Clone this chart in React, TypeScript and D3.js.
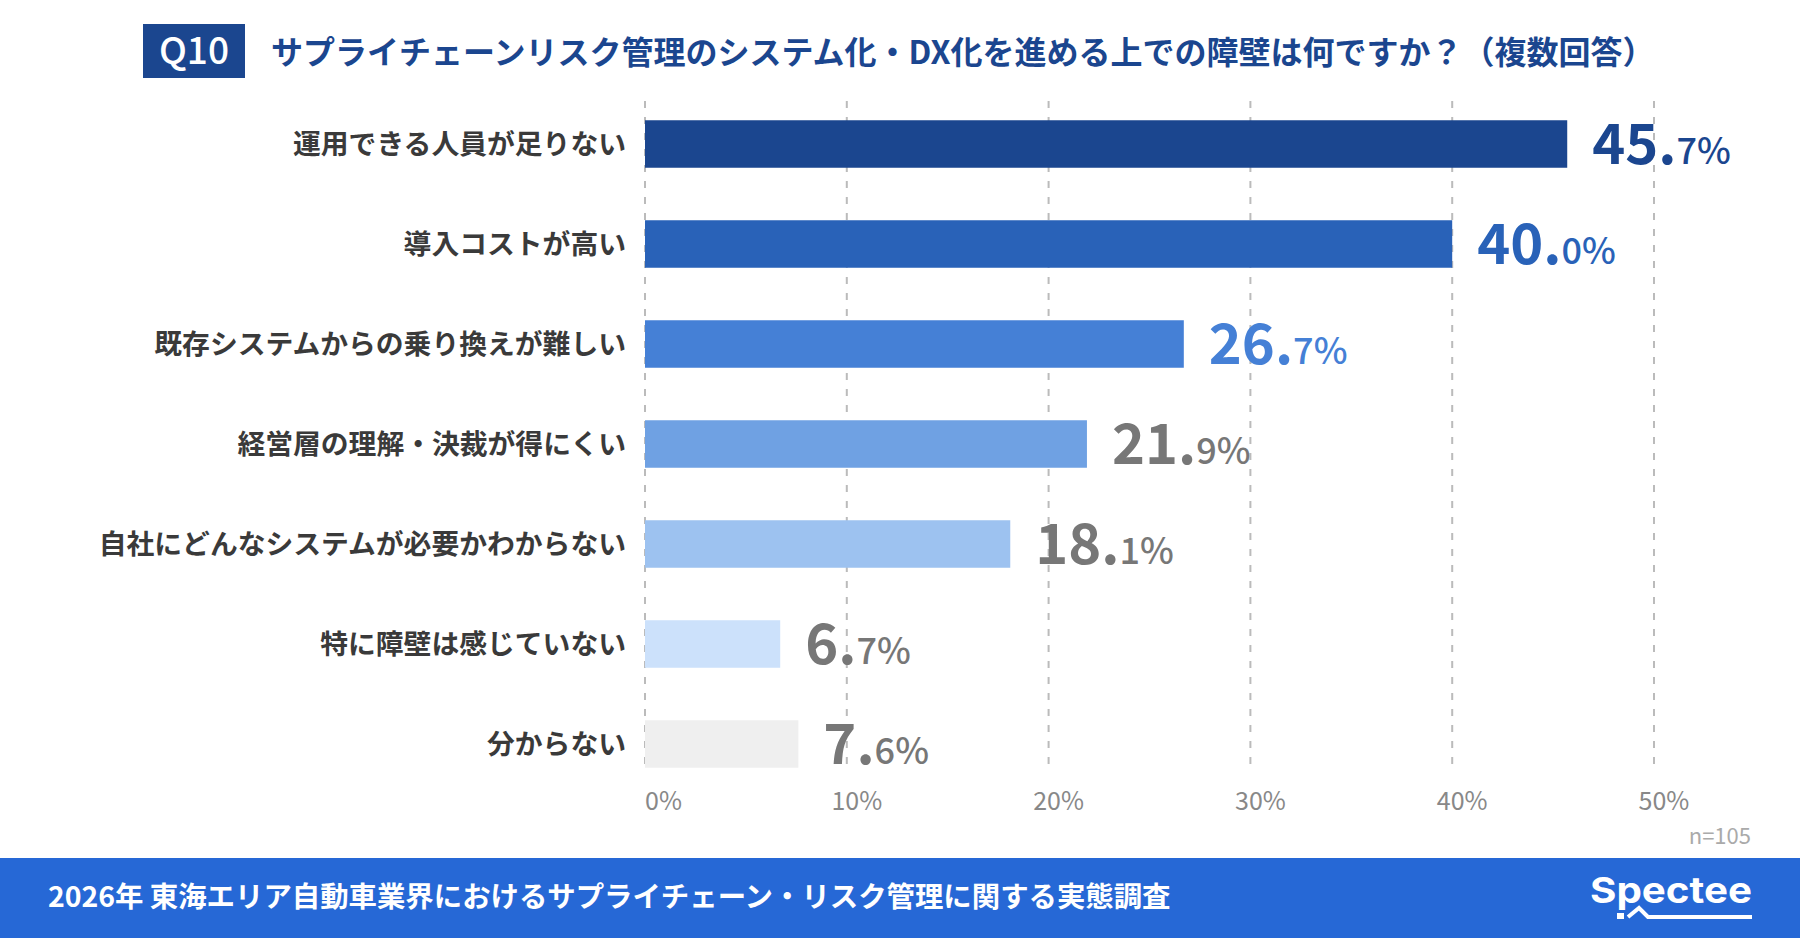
import React, { useEffect } from 'react';
import * as d3 from 'd3';

// canvas size of the reference image
const WIDTH = 1800;
const HEIGHT = 938;

const TITLE = 'サプライチェーンリスク管理のシステム化・DX化を進める上での障壁は何ですか？（複数回答）';
const FOOTER = '2026年 東海エリア自動車業界におけるサプライチェーン・リスク管理に関する実態調査';
const SAMPLE = 'n=105';

const categories = [
  '運用できる人員が足りない',
  '導入コストが高い',
  '既存システムからの乗り換えが難しい',
  '経営層の理解・決裁が得にくい',
  '自社にどんなシステムが必要かわからない',
  '特に障壁は感じていない',
  '分からない',
];
const values = [45.7, 40.0, 26.7, 21.9, 18.1, 6.7, 7.6];
const barColors = ['#1b468f', '#2962b8', '#4580d6', '#6fa1e3', '#9dc2f0', '#cce1fb', '#efefef'];
const labelColors = ['#1b468f', '#2962b8', '#4580d6', '#777777', '#777777', '#777777', '#777777'];
const ticks = [0, 10, 20, 30, 40, 50];

const JP = '"Noto Sans CJK JP", "Noto Sans", sans-serif';

export default function App() {
  useEffect(() => {
    document.body.style.margin = '0';
    document.body.style.overflow = 'hidden';
  }, []);

  const x = d3.scaleLinear().domain([0, 50]).range([645, 1654]);
  const y = d3
    .scaleBand<string>()
    .domain(categories)
    .range([94, 794])
    .paddingInner(0.525)
    .paddingOuter(0.2625);
  const bh = y.bandwidth();

  return (
    <svg width={WIDTH} height={HEIGHT} style={{ display: 'block', background: '#fff' }}>
      {/* header */}
      <rect x={143} y={24} width={102} height={54} fill="#1b468f" />
      <text x={194} y={64} textAnchor="middle" fill="#fff" fontFamily={JP} fontWeight={500} fontSize={37}>
        Q10
      </text>
      <text x={271} y={64} fill="#1b468f" fontFamily={JP} fontWeight={700} fontSize={32}>
        {TITLE}
      </text>

      {/* grid */}
      <g>
        {ticks.map((t) => (
          <line
            key={t}
            x1={x(t)}
            x2={x(t)}
            y1={101}
            y2={768}
            stroke="#bbbbbb"
            strokeWidth={2}
            strokeDasharray="7,9"
          />
        ))}
      </g>

      {/* bars */}
      <g>
        {categories.map((c, i) => (
          <rect key={c} x={x(0)} y={y(c)} width={x(values[i]) - x(0)} height={bh} fill={barColors[i]} />
        ))}
      </g>

      {/* category labels */}
      <g fontFamily={JP} fontWeight={700} fontSize={27.8} fill="#3a3a3a" textAnchor="end">
        {categories.map((c) => (
          <text key={c} x={626} y={(y(c) as number) + bh / 2 + 10}>
            {c}
          </text>
        ))}
      </g>

      {/* value labels */}
      <g fontFamily={JP}>
        {categories.map((c, i) => {
          const [whole, dec] = values[i].toFixed(1).split('.');
          return (
            <text key={c} x={x(values[i]) + 25} y={(y(c) as number) + bh / 2 + 20} fill={labelColors[i]}>
              <tspan fontSize={56} fontWeight={700}>
                {whole}.
              </tspan>
              <tspan fontSize={36} fontWeight={500}>
                {dec}%
              </tspan>
            </text>
          );
        })}
      </g>

      {/* x tick labels */}
      <g fontFamily={JP} fontSize={25} fill="#888888">
        {ticks.map((t, i) => (
          <text key={t} x={i === 0 ? x(t) : x(t) + 10} y={810} textAnchor={i === 0 ? 'start' : 'middle'}>
            {t}%
          </text>
        ))}
      </g>

      <text x={1751} y={844} textAnchor="end" fontFamily={JP} fontSize={22} fill="#aaaaaa">
        {SAMPLE}
      </text>

      {/* footer */}
      <rect x={0} y={858} width={WIDTH} height={HEIGHT - 858} fill="#2668d6" />
      <text x={48} y={907} fill="#fff" fontFamily={JP} fontWeight={700} fontSize={28.4}>
        {FOOTER}
      </text>
      <text
        x={1590}
        y={903}
        fill="#fff"
        fontFamily='Inter, "Noto Sans", sans-serif'
        fontWeight={700}
        fontSize={36}
        textLength={162}
        lengthAdjust="spacingAndGlyphs"
      >
        Spectee
      </text>
      <rect x={1617} y={913} width={7} height={6} fill="#fff" />
      <polyline
        points="1628,917 1639,908 1648,917 1752,917"
        fill="none"
        stroke="#fff"
        strokeWidth={4}
      />
    </svg>
  );
}
